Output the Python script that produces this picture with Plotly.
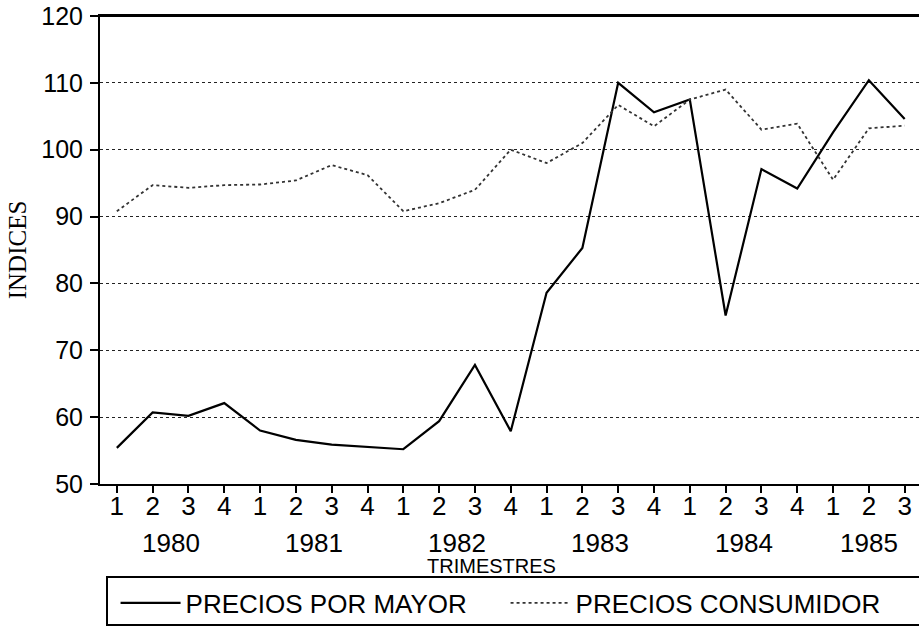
import plotly.graph_objects as go

years = [1980, 1981, 1982, 1983, 1984, 1985]
quarters_per_year = [4, 4, 4, 4, 4, 3]
quarter_labels = ["1", "2", "3", "4"]

precios_por_mayor = [55.4, 60.7, 60.2, 62.1, 58.0, 56.6, 55.9, 55.5, 55.2, 59.4, 67.8, 57.9,
                     78.6, 85.3, 110.0, 105.6, 107.5, 75.2, 97.1, 94.2, 102.6, 110.4, 104.6]
precios_consumidor = [90.8, 94.7, 94.3, 94.7, 94.8, 95.4, 97.7, 96.2, 90.8, 92.0, 94.0, 100.0,
                      98.0, 101.0, 106.7, 103.5, 107.5, 109.0, 103.0, 103.9, 95.5, 103.2, 103.6]
y_ticks = [50, 60, 70, 80, 90, 100, 110, 120]

# build x positions and tick labels
x_idx = []
tick_text = []
year_centers = []
i = 0
for y, n in zip(years, quarters_per_year):
    xs = list(range(i, i + n))
    x_idx.extend(xs)
    tick_text.extend(quarter_labels[:n])
    year_centers.append(sum(xs) / len(xs))
    i += n

FONT = "Liberation Sans, Arial, Helvetica, sans-serif"

fig = go.Figure()
fig.add_trace(go.Scatter(
    x=x_idx, y=precios_por_mayor, mode="lines", name="PRECIOS POR MAYOR",
    line=dict(color="black", width=2.2)))
fig.add_trace(go.Scatter(
    x=x_idx, y=precios_consumidor, mode="lines", name="PRECIOS CONSUMIDOR",
    line=dict(color="#333333", width=1.8, dash="dot")))

W, H = 919, 634
L, T, B = 100, 16, 150
PB = H - B        # plot bottom in px
PW = W - L        # plot width
PH = H - T - B    # plot height


def py(page_y):
    return -(page_y - PB) / PH


fig.update_layout(
    width=W, height=H,
    margin=dict(l=L, r=0, t=T, b=B, pad=0, autoexpand=False),
    paper_bgcolor="white", plot_bgcolor="white",
    font=dict(family=FONT, color="black"),
    showlegend=True,
    legend=dict(
        orientation="h", x=0.019, xanchor="left", y=py(603), yanchor="middle",
        font=dict(size=26, family=FONT), bgcolor="rgba(0,0,0,0)",
        entrywidth=315, entrywidthmode="pixels", itemwidth=60,
    ),
    xaxis=dict(
        range=[-0.47, 22.4], tickmode="array", tickvals=x_idx, ticktext=tick_text,
        ticks="outside", ticklen=7, tickwidth=2, tickcolor="black",
        tickfont=dict(size=26, family=FONT), ticklabelstandoff=-9,
        ticklabeloverflow="allow",
        showline=True, linecolor="black", linewidth=2, mirror=True,
        showgrid=False, zeroline=False, fixedrange=True, automargin=False,
    ),
    yaxis=dict(
        range=[50, 120], tickmode="array", tickvals=y_ticks,
        ticks="outside", ticklen=8, tickwidth=2, tickcolor="black",
        tickfont=dict(size=25, family=FONT), ticklabelstandoff=2,
        ticklabeloverflow="allow",
        showline=True, linecolor="black", linewidth=2,
        showgrid=True, gridcolor="#222222", gridwidth=1, griddash="dot",
        zeroline=False, fixedrange=True, automargin=False,
        title=dict(text="INDICES", font=dict(size=25, family="Liberation Serif, Times New Roman, serif"),
                   standoff=8),
    ),
)

for yr, xc in zip(years, year_centers):
    fig.add_annotation(x=xc, xref="x", y=py(543), yref="paper",
                       text=str(yr), showarrow=False, yanchor="middle",
                       font=dict(size=26, family=FONT))

fig.add_annotation(x=(491 - L) / PW, xref="paper", y=py(566), yref="paper",
                   text="TRIMESTRES", showarrow=False, yanchor="middle",
                   font=dict(size=20, family=FONT))

# top frame line of the plot area
fig.add_shape(type="line", xref="paper", yref="paper", x0=-10 / PW, x1=1, y0=1, y1=1,
              line=dict(color="black", width=2))

# legend frame (open towards the right edge, as in the original)
fig.add_shape(type="rect", xref="paper", yref="paper",
              x0=(107 - L) / PW, x1=1.2,
              y0=py(625), y1=py(577),
              line=dict(color="black", width=2), fillcolor="rgba(0,0,0,0)")

fig.write_html(
    "out.html",
    config={"displayModeBar": False, "staticPlot": True},
    post_script="document.body.style.margin='0';document.body.style.overflow='hidden';",
)
